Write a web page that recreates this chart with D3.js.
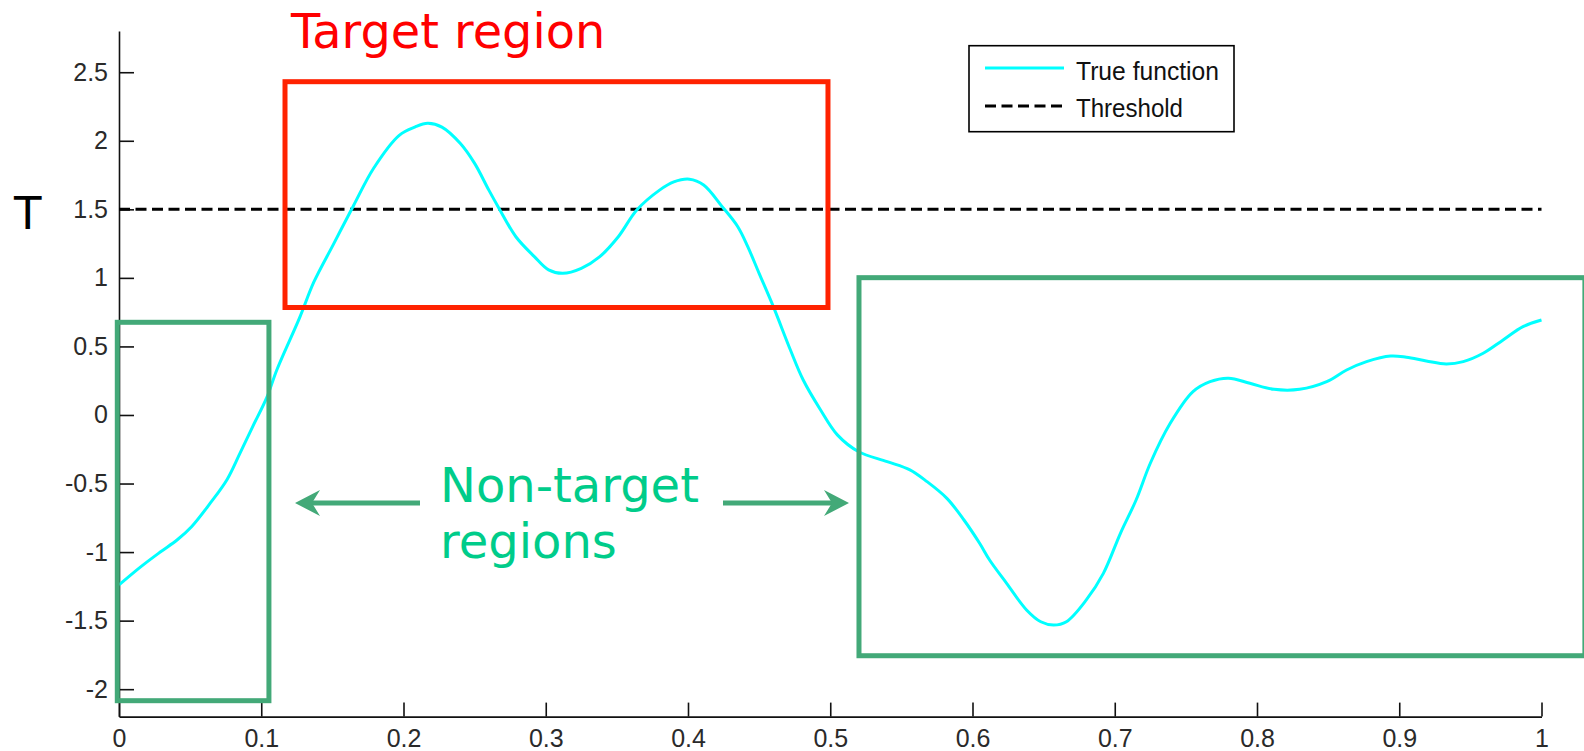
<!DOCTYPE html>
<html>
<head>
<meta charset="utf-8">
<script src="https://cdn.jsdelivr.net/npm/d3@7"></script>
<style>
  html, body { margin: 0; padding: 0; background: #fff; }
  svg { display: block; }
</style>
</head>
<body>
<svg id="chart" width="1584" height="751"></svg>
<script>
// Sampled true function T(x) on [0, 1]
const xSamples = [0.000, 0.015, 0.029, 0.041, 0.051, 0.064, 0.076, 0.085, 0.094, 0.104,
  0.111, 0.127, 0.137, 0.151, 0.165, 0.179, 0.197, 0.208, 0.217, 0.227,
  0.240, 0.250, 0.260, 0.267, 0.279, 0.292, 0.302, 0.312, 0.325, 0.338,
  0.351, 0.364, 0.380, 0.390, 0.401, 0.411, 0.424, 0.435, 0.442, 0.450,
  0.460, 0.472, 0.481, 0.493, 0.505, 0.520, 0.540, 0.556, 0.568, 0.582,
  0.594, 0.605, 0.612, 0.624, 0.638, 0.648, 0.657, 0.666, 0.680, 0.692,
  0.704, 0.715, 0.725, 0.739, 0.755, 0.767, 0.780, 0.795, 0.812, 0.830,
  0.849, 0.863, 0.877, 0.894, 0.905, 0.919, 0.933, 0.945, 0.959, 0.973,
  0.987, 1.000];
const tValues = [-1.24, -1.11, -1.00, -0.91, -0.815, -0.645, -0.47, -0.28, -0.085, 0.13,
  0.33, 0.71, 0.97, 1.25, 1.53, 1.80, 2.04, 2.10, 2.127, 2.10,
  1.98, 1.835, 1.64, 1.51, 1.30, 1.155, 1.058, 1.033, 1.07, 1.155,
  1.30, 1.495, 1.64, 1.70, 1.72, 1.678, 1.52, 1.373, 1.228, 1.033,
  0.79, 0.474, 0.255, 0.04, -0.145, -0.268, -0.34, -0.40, -0.486, -0.608,
  -0.766, -0.936, -1.058, -1.228, -1.422, -1.508, -1.532, -1.508, -1.349, -1.155,
  -0.863, -0.62, -0.352, -0.061, 0.17, 0.243, 0.268, 0.231, 0.187, 0.187,
  0.243, 0.328, 0.389, 0.43, 0.421, 0.394, 0.372, 0.389, 0.45, 0.547,
  0.644, 0.693];

const threshold = 1.5;
const xTicks = [0, 0.1, 0.2, 0.3, 0.4, 0.5, 0.6, 0.7, 0.8, 0.9, 1];
const yTicks = [-2, -1.5, -1, -0.5, 0, 0.5, 1, 1.5, 2, 2.5];
const legendLabels = ["True function", "Threshold"];

// Highlighted regions, in data units: [x0, x1, yTop, yBottom]
const targetRegion = [0.1167, 0.4984, 2.431, 0.784];
const nonTargetRegions = [
  [-0.0012, 0.1054, 0.676, -2.084],
  [0.5202, 1.0305, 1.0015, -1.756]
];

const svg = d3.select("#chart");
svg.append("rect").attr("width", 1584).attr("height", 751).attr("fill", "#fff");

const x = d3.scaleLinear().domain([0, 1]).range([119, 1541.5]);
const y = d3.scaleLinear().domain([-2.2, 2.8]).range([716.6, 31.1]);

const tickFont = "'Liberation Sans', Arial, sans-serif";
const annoFont = "'DejaVu Sans', Verdana, sans-serif";
const plainNumber = d => String(d);

// Axes (left and bottom only, ticks pointing inward)
const yAxis = d3.axisLeft(y).tickValues(yTicks).tickSizeInner(-15).tickSizeOuter(0)
  .tickPadding(11).tickFormat(plainNumber);
const xAxis = d3.axisBottom(x).tickValues(xTicks).tickSizeInner(-14).tickSizeOuter(0)
  .tickPadding(13).tickFormat(plainNumber);

const gy = svg.append("g").attr("transform", `translate(${x(0)},0)`).call(yAxis);
const gx = svg.append("g").attr("transform", `translate(0,${y(-2.2)})`).call(xAxis);
[gx, gy].forEach(g => {
  g.selectAll("path.domain").attr("stroke", "#111").attr("stroke-width", 1.6);
  g.selectAll(".tick line").attr("stroke", "#111").attr("stroke-width", 1.6);
  g.selectAll(".tick text").attr("font-family", tickFont).attr("font-size", 25)
    .attr("fill", "#2a2a2a");
});

// Threshold line
svg.append("line")
  .attr("x1", x(0)).attr("x2", x(1))
  .attr("y1", y(threshold)).attr("y2", y(threshold))
  .attr("stroke", "#000").attr("stroke-width", 3)
  .attr("stroke-dasharray", "11,5.5");

// True function
const line = d3.line()
  .x((d, i) => x(xSamples[i]))
  .y(d => y(d))
  .curve(d3.curveCatmullRom.alpha(0.5));
svg.append("path")
  .datum(tValues)
  .attr("d", line)
  .attr("fill", "none")
  .attr("stroke", "#00ffff")
  .attr("stroke-width", 3);

// Y label
svg.append("text").attr("x", 14).attr("y", 229)
  .attr("font-family", annoFont).attr("font-size", 45).attr("fill", "#000")
  .text("T");

// Legend
const lg = svg.append("g");
lg.append("rect").attr("x", 969).attr("y", 45.7).attr("width", 265).attr("height", 86)
  .attr("fill", "#fff").attr("stroke", "#000").attr("stroke-width", 1.6);
lg.append("line").attr("x1", 985).attr("x2", 1064).attr("y1", 68).attr("y2", 68)
  .attr("stroke", "#00ffff").attr("stroke-width", 3);
lg.append("line").attr("x1", 985).attr("x2", 1064).attr("y1", 106).attr("y2", 106)
  .attr("stroke", "#000").attr("stroke-width", 3).attr("stroke-dasharray", "11,5.5");
lg.append("text").attr("x", 1076).attr("y", 80)
  .attr("font-family", tickFont).attr("font-size", 26).attr("fill", "#111")
  .attr("textLength", 143).attr("lengthAdjust", "spacingAndGlyphs")
  .text(legendLabels[0]);
lg.append("text").attr("x", 1076).attr("y", 117)
  .attr("font-family", tickFont).attr("font-size", 26).attr("fill", "#111")
  .attr("textLength", 107).attr("lengthAdjust", "spacingAndGlyphs")
  .text(legendLabels[1]);

// Region boxes
function regionRect(r, color) {
  svg.append("rect")
    .attr("x", x(r[0])).attr("y", y(r[2]))
    .attr("width", x(r[1]) - x(r[0])).attr("height", y(r[3]) - y(r[2]))
    .attr("fill", "none").attr("stroke", color).attr("stroke-width", 5);
}
regionRect(targetRegion, "#ff2200");
nonTargetRegions.forEach(r => regionRect(r, "#43a978"));

// Annotation text
svg.append("text").attr("x", 291).attr("y", 47.7)
  .attr("font-family", annoFont).attr("font-size", 47.8).attr("fill", "#ff0000")
  .text("Target region");
const nt = svg.append("text").attr("font-family", annoFont).attr("font-size", 48)
  .attr("fill", "#00cc8a");
nt.append("tspan").attr("x", 440).attr("y", 502).text("Non-target");
nt.append("tspan").attr("x", 440).attr("y", 558).text("regions");

// Arrows pointing to the non-target regions
function arrow(tipX, tailX, yy) {
  const dir = Math.sign(tailX - tipX);
  svg.append("line").attr("x1", tailX).attr("x2", tipX + dir * 16)
    .attr("y1", yy).attr("y2", yy)
    .attr("stroke", "#43a978").attr("stroke-width", 5);
  const p = d3.path();
  p.moveTo(tipX, yy);
  p.lineTo(tipX + dir * 25, yy - 13);
  p.lineTo(tipX + dir * 17, yy);
  p.lineTo(tipX + dir * 25, yy + 13);
  p.closePath();
  svg.append("path").attr("d", p.toString()).attr("fill", "#43a978");
}
arrow(295, 420, 503);
arrow(849, 723, 503);
</script>
</body>
</html>
